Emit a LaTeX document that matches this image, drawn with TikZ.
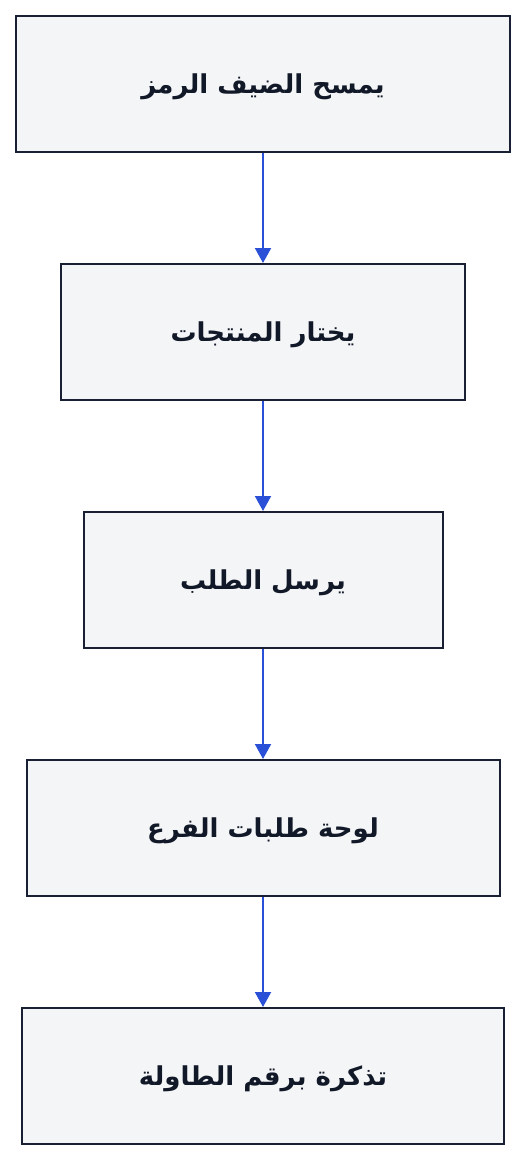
\documentclass[tikz,border=0pt]{standalone}
\usepackage{fontspec}
\usetikzlibrary{arrows.meta}
\TeXXeTstate=1
\newfontfamily\arabicfont[Script=Arabic]{DejaVu Sans}
\definecolor{boxfill}{HTML}{F4F5F7}
\definecolor{boxline}{HTML}{1A2033}
\definecolor{textcol}{HTML}{111827}
\definecolor{arrowblue}{HTML}{2B50D8}
\newcommand{\artext}[1]{\raisebox{-3pt}[\height][\depth]{\beginR #1\endR}}
\begin{document}
\begin{tikzpicture}[x=1pt,y=-1pt,
  stepbox/.style={draw=boxline,line width=2pt,fill=boxfill,inner sep=0pt,
    minimum height=136pt,text=textcol,font=\arabicfont\bfseries\fontsize{26}{30}\selectfont},
  flow/.style={draw=arrowblue,line width=2pt,-{Triangle[length=15pt,width=16pt]}}]
\useasboundingbox[fill=white] (0,0) rectangle (526,1160);
\node[stepbox,minimum width=494pt] (s1) at (263,84) {\artext{يمسح الضيف الرمز}};
\node[stepbox,minimum width=404pt] (s2) at (263,332) {\artext{يختار المنتجات}};
\node[stepbox,minimum width=359pt] (s3) at (263,580) {\artext{يرسل الطلب}};
\node[stepbox,minimum width=473pt] (s4) at (263,828) {\artext{لوحة طلبات الفرع}};
\node[stepbox,minimum width=482pt] (s5) at (263,1076) {\artext{تذكرة برقم الطاولة}};
\draw[flow] (s1.south) -- (s2.north);
\draw[flow] (s2.south) -- (s3.north);
\draw[flow] (s3.south) -- (s4.north);
\draw[flow] (s4.south) -- (s5.north);
\end{tikzpicture}
\end{document}
